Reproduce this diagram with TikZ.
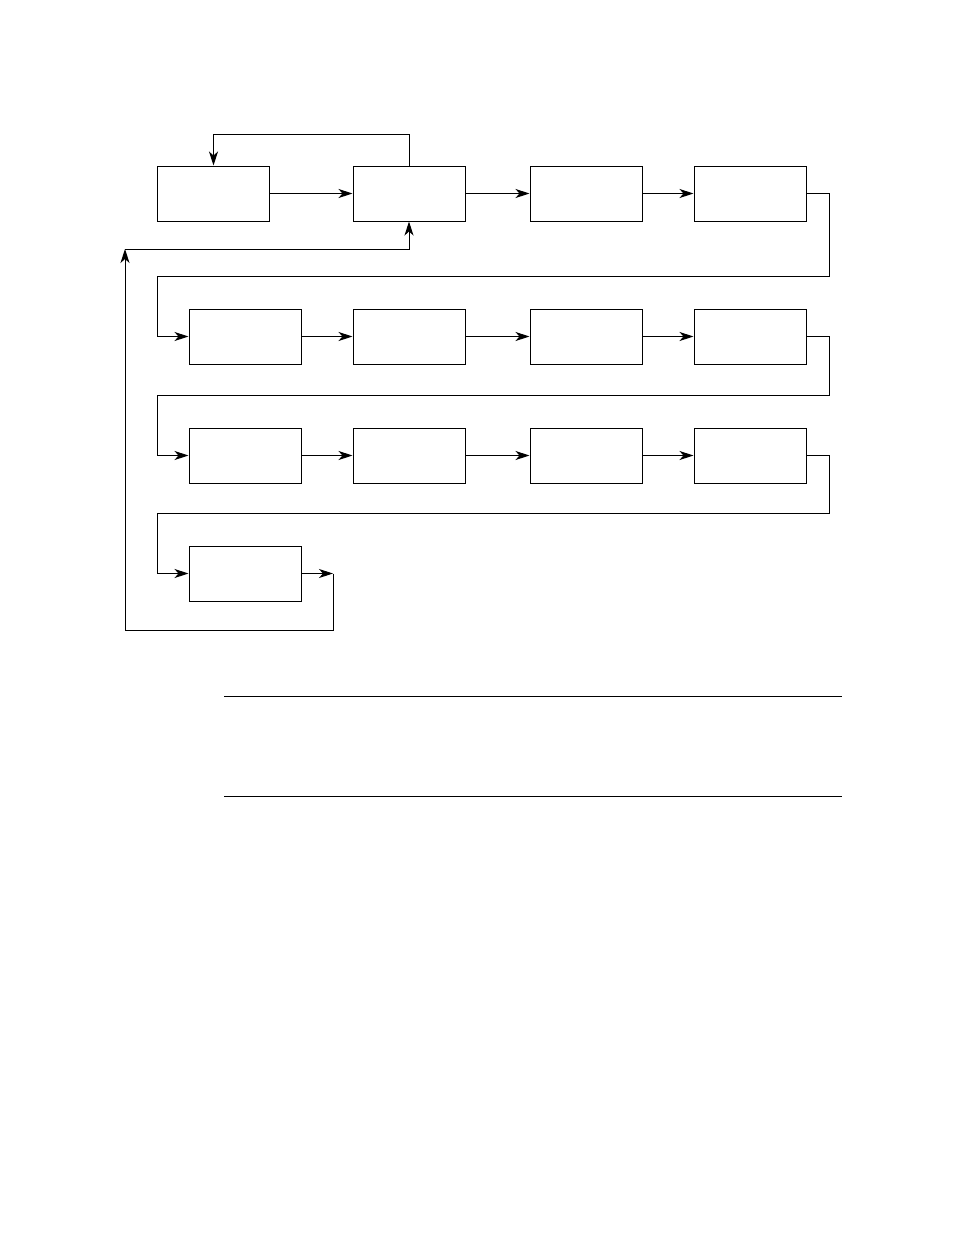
\documentclass[tikz,border=0pt]{standalone}
\usetikzlibrary{arrows.meta}

\begin{document}
\begin{tikzpicture}[x=1pt,y=-1pt,line width=1pt,
    blk/.style={draw,rectangle,inner sep=0pt,minimum width=112pt,minimum height=55pt},
    >={Stealth[length=14pt,width=9pt,inset=4pt]}]
        \useasboundingbox (0,0) rectangle (954,1235);
        % first row
        \node[blk] (a) at (213.5,193.5) {};
        \node[blk] (b) at (409,193.5) {};
        \node[blk] (c) at (586,193.5) {};
        \node[blk] (d) at (750,193.5) {};
        % second row
        \node[blk] (e) at (245,336.5) {};
        \node[blk] (f) at (409,336.5) {};
        \node[blk] (g) at (586,336.5) {};
        \node[blk] (h) at (750,336.5) {};
        % third row
        \node[blk] (i) at (245,455.5) {};
        \node[blk] (j) at (409,455.5) {};
        \node[blk] (k) at (586,455.5) {};
        \node[blk] (l) at (750,455.5) {};
        % last box
        \node[blk] (m) at (245,573.5) {};
        \coordinate (mo) at (333,573.5);
        \coordinate (ret) at (125,249);
        \draw[->] (a) -- (b);
        \draw[->] (b) -- (c);
        \draw[->] (c) -- (d);
        \draw[->] (b.north) -- ++(0,-31) -| (a.north);
        \draw[->] (d.east) -- (829,193.5) |- (157,276) |- (e.west);
        \draw[->] (e) -- (f);
        \draw[->] (f) -- (g);
        \draw[->] (g) -- (h);
        \draw[->] (h.east) -- (829,336.5) |- (157,395) |- (i.west);
        \draw[->] (i) -- (j);
        \draw[->] (j) -- (k);
        \draw[->] (k) -- (l);
        \draw[->] (l.east) -- (829,455.5) |- (157,513) |- (m.west);
        \draw[->] (m.east) -- (mo);
        \draw[->] (mo) |- (125,630) -- (ret);
        \draw[->] (ret) -| (b.south);
        % rules below
        \draw (224,696) -- (842,696);
        \draw (224,796) -- (842,796);
      \end{tikzpicture}
\end{document}
